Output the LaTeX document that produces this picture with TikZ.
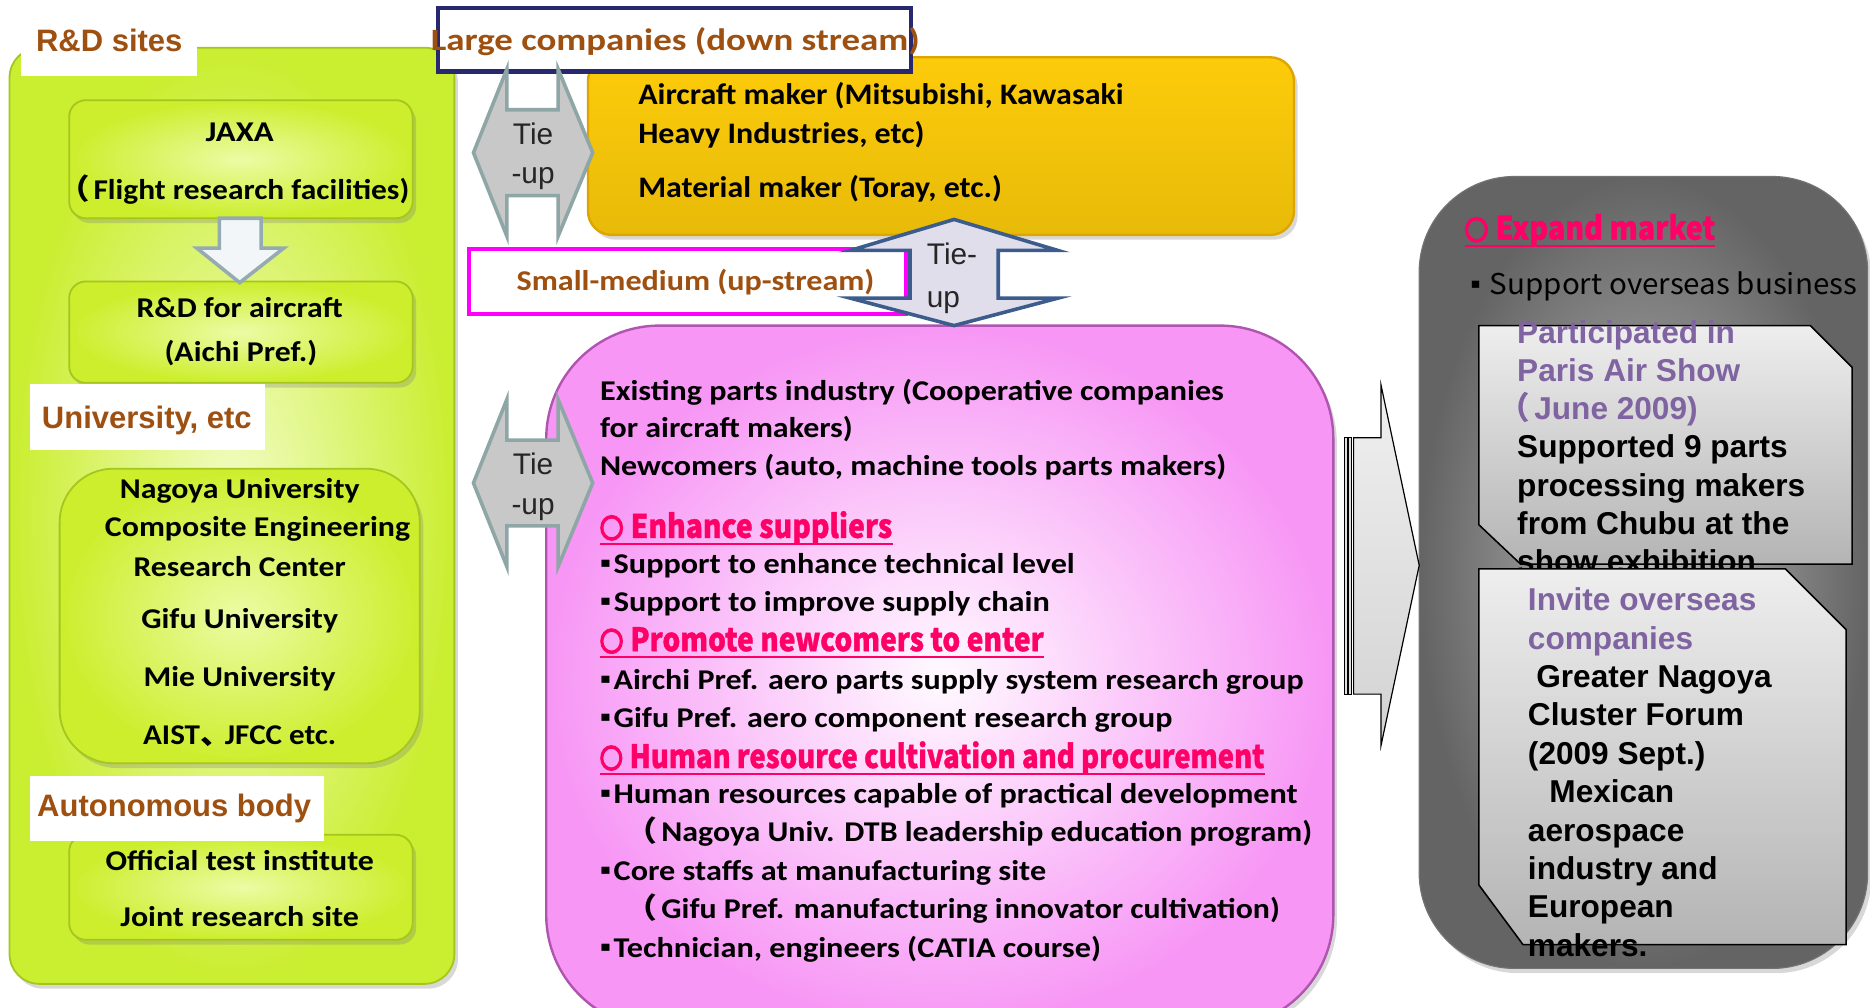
\documentclass[tikz,border=0pt]{standalone}
\usepackage{fontspec}
\usepackage{graphicx}
\setmainfont{Carlito}
\newfontfamily\arialf{Liberation Sans}
\newfontfamily\jpf{Noto Sans CJK JP}
\newfontfamily\jphd{Noto Sans CJK JP}[FakeBold=1.2]
\newfontfamily\circf{Noto Sans CJK JP}[FakeBold=9]
\newfontfamily\djf{DejaVu Sans}
\usetikzlibrary{shadows}
\definecolor{brownt}{RGB}{158,80,16}
\definecolor{pinkh}{RGB}{255,0,102}
\definecolor{purp}{RGB}{128,100,162}
\definecolor{navyb}{RGB}{40,40,110}
\definecolor{magb}{RGB}{255,0,255}
\definecolor{limeo}{RGB}{202,238,48}
\definecolor{limei}{RGB}{242,253,200}
\definecolor{limeb}{RGB}{165,198,30}
\definecolor{btno}{RGB}{204,238,44}
\definecolor{btni}{RGB}{236,251,165}
\definecolor{orangef}{RGB}{252,203,10}
\definecolor{orangeb}{RGB}{222,165,0}
\definecolor{pinko}{RGB}{247,150,245}
\definecolor{pinki}{RGB}{255,250,255}
\definecolor{pinkb}{RGB}{175,85,175}
\definecolor{grayo}{RGB}{100,100,100}
\definecolor{grayi}{RGB}{188,188,188}
\definecolor{tieg}{RGB}{200,200,200}
\definecolor{tieb}{RGB}{143,166,166}
\definecolor{udf}{RGB}{225,222,236}
\definecolor{udb}{RGB}{60,92,140}
\definecolor{dnf}{RGB}{243,246,248}
\definecolor{dnb}{RGB}{150,170,178}
\definecolor{notet}{RGB}{238,238,238}
\definecolor{noteb}{RGB}{180,180,180}
\newcommand\fitto[2]{\sbox0{#2}\pgfmathsetmacro\fitsc{#1/\the\wd0}\scalebox{\fitsc}[1]{\usebox0}}
\newcommand\txL[5][]{\node[txt,anchor=base west,#1] (#2) at (#3) {\fitto{#4}{#5}};}
\newcommand\txC[5][]{\node[txt,anchor=base,#1] (#2) at (#3) {\fitto{#4}{#5}};}
\newcommand\bul{\raisebox{5pt}{\djf\fontsize{12}{12}\selectfont ▪}\hspace{2pt}}
\newcommand\fwp{\hspace{-0.58em}{\jpf （}\hspace{0.12em}}
\newcommand\ringmk{{\circf\fontsize{22}{22}\selectfont ○}\hspace{7pt}}
\begin{document}
\begin{tikzpicture}[x=1pt,y=-1pt,
  txt/.style={inner sep=0pt, font=\fontsize{24}{28}\selectfont\bfseries, text=black},
  orng/.style={font=\fontsize{25}{28}\selectfont\bfseries},
  brn/.style={text=brownt, font=\fontsize{26}{30}\selectfont\bfseries},
  hd/.style={inner sep=0pt, anchor=base west, text=brownt, font=\arialf\fontsize{26}{30}\selectfont\bfseries},
  pk/.style={text=pinkh, font=\jphd\fontsize{27}{30}\selectfont\bfseries},
  ul/.style={draw=pinkh, line width=1.8pt},
  tie/.style={inner sep=0pt, text=black!85, font=\arialf\fontsize{25}{28}\selectfont},
  note/.style={inner sep=0pt, anchor=base west, font=\arialf\fontsize{26.5}{32}\selectfont\bfseries},
  shad/.style={drop shadow={shadow xshift=3pt, shadow yshift=-4pt, opacity=0.3}},
  btn/.style={rounded corners=14, draw=limeb, line width=1.5pt, inner color=btni, outer color=btno, shad},
  tiearrow/.style={fill=tieg, draw=tieb, line width=3pt, line join=miter},
  notebox/.style={top color=notet, bottom color=noteb, draw=black, line width=1.3pt}
]
\useasboundingbox (0,0) rectangle (1568,845);
\fill[white] (0,0) rectangle (1568,845);

% ---------------- left green panel
\path[rounded corners=25, inner color=limei, outer color=limeo, draw=limeb, line width=1.5pt, shad] (8,40) rectangle (381,825);
\path[btn] (58,84) rectangle (346,183);
\path[btn] (58,236) rectangle (346,321);
\path[btn, rounded corners=45] (50,393) rectangle (352,640);
\path[btn] (58,700) rectangle (346,788);
\filldraw[fill=dnf, draw=dnb, line width=3pt, line join=miter]
  (184,183) -- (219,183) -- (219,208) -- (238,208) -- (201,237) -- (165,208) -- (184,208) -- cycle;
\fill[white] (18,14) rectangle (165,64);
\fill[white] (25,322) rectangle (222,377);
\fill[white] (25,651) rectangle (272,705);
\node[hd] (rdsites) at (30,43) {R\&D sites};
\node[hd] (univ) at (35,359) {University, etc};
\node[hd] (auton) at (31,685) {Autonomous body};
\txC{jaxa}{201,119}{57}{JAXA}
\txL{flight}{64,167}{279}{\fwp Flight research facilities)}
\txC{rdair}{201,266}{173}{R\&D for aircraft}
\txC{aichi}{202,303}{128}{(Aichi Pref.)}
\txC{nagoya}{201,418}{201}{Nagoya University}
\txC{comp}{216,450}{256}{Composite Engineering}
\txC{resc}{201,483}{178}{Research Center}
\txC{gifu}{201,527}{165}{Gifu University}
\txC{mie}{201,576}{161}{Mie University}
\txC{aist}{201,624}{162}{AIST{\jpf 、}\hspace{-0.2em}JFCC etc.}
\txC{offi}{201,730}{225}{Official test institute}
\txC{joint}{201,777}{200}{Joint research site}

% ---------------- large companies
\path[rounded corners=20, top color=orangef, bottom color=orangef!92!black, draw=orangeb, line width=2pt, shad] (493,48) rectangle (1085,197);
\txL[orng]{air1}{535,88}{407}{Aircraft maker (Mitsubishi, Kawasaki}
\txL[orng]{air2}{535,120}{240}{Heavy Industries, etc)}
\txL[orng]{mat}{535,166}{305}{Material maker (Toray, etc.)}
\filldraw[fill=white, draw=navyb, line width=3.5pt] (367,7) rectangle (764,60);
\txL[brn]{large}{361,42}{410}{Large companies (down stream)}
\filldraw[tiearrow] (397,128) -- (425,58) -- (425,92) -- (468,92) -- (468,58) -- (497,128)
  -- (468,198) -- (468,164) -- (425,164) -- (425,198) -- cycle;
\node[tie, anchor=base] (tie1a) at (447,121) {Tie};
\node[tie, anchor=base] (tie1b) at (447,154) {-up};

% ---------------- small-medium
\filldraw[fill=white, draw=magb, line width=3.5pt] (393,209) rectangle (760,263);
\txL[brn, font=\fontsize{24}{28}\selectfont\bfseries]{small}{433,244}{300}{Small-medium (up-stream)}

% ---------------- pink panel
\path[rounded corners=95, inner color=pinki, outer color=pinko, draw=pinkb, line width=2pt, shad] (458,273) rectangle (1118,862);
\filldraw[fill=udf, draw=udb, line width=3pt, line join=miter]
  (800,184) -- (887,210) -- (837,210) -- (837,250) -- (887,250) -- (800,273)
  -- (713,250) -- (763,250) -- (763,210) -- (713,210) -- cycle;
\node[tie, anchor=base west] (tie3a) at (777,222) {Tie-};
\node[tie, anchor=base west] (tie3b) at (777,258) {up};
\filldraw[tiearrow] (397,405) -- (425,335) -- (425,369) -- (468,369) -- (468,335) -- (497,405)
  -- (468,475) -- (468,441) -- (425,441) -- (425,475) -- cycle;
\node[tie, anchor=base] (tie2a) at (447,398) {Tie};
\node[tie, anchor=base] (tie2b) at (447,431) {-up};

\txL{ex1}{503,336}{523}{Existing parts industry (Cooperative companies}
\txL{ex2}{503,367}{212}{for aircraft makers)}
\txL{ex3}{503,399}{525}{Newcomers (auto, machine tools parts makers)}
\txL[pk]{h1}{503,451}{245}{\ringmk Enhance suppliers}
\draw[ul] ([yshift=-5pt]h1.base west) -- ([yshift=-5pt]h1.base east);
\txL{b1}{503,481}{398}{\bul Support to enhance technical level}
\txL{b2}{503,513}{377}{\bul Support to improve supply chain}
\txL[pk]{h2}{503,546}{372}{\ringmk Promote newcomers to enter}
\draw[ul] ([yshift=-5pt]h2.base west) -- ([yshift=-5pt]h2.base east);
\txL{b3}{503,578}{590}{\bul Airchi Pref. aero parts supply system research group}
\txL{b4}{503,610}{480}{\bul Gifu Pref. aero component research group}
\txL[pk]{h3}{503,644}{557}{\ringmk Human resource cultivation and procurement}
\draw[ul] ([yshift=-5pt]h3.base west) -- ([yshift=-5pt]h3.base east);
\txL{b5}{503,674}{585}{\bul Human resources capable of practical development}
\txL{b6}{540,706}{560}{\fwp Nagoya Univ. DTB leadership education program)}
\txL{b7}{503,738}{374}{\bul Core staffs at manufacturing site}
\txL{b8}{540,770}{533}{\fwp Gifu Pref. manufacturing innovator cultivation)}
\txL{b9}{503,803}{420}{\bul Technician, engineers (CATIA course)}

% ---------------- right gray panel
\path[rounded corners=80, inner color=grayi, outer color=grayo, draw=black!55, line width=1pt, shad] (1190,148) rectangle (1566,812);
\txL[pk]{h4}{1228,201}{210}{\ringmk Expand market}
\draw[ul] ([yshift=-5pt]h4.base west) -- ([yshift=-5pt]h4.base east);
\txL[font=\jpf\fontsize{24}{28}\selectfont]{sob}{1233,247}{324}{\bul\ Support overseas business}

% striped arrow
\filldraw[top color=gray!12, bottom color=gray!35, draw=black, line width=1pt, line join=miter]
  (1135,367) -- (1158,367) -- (1158,323) -- (1190,474) -- (1158,625) -- (1158,582) -- (1135,582) -- cycle;
\filldraw[fill=gray!25, draw=black, line width=0.7pt] (1127,367) rectangle (1129.5,582);
\filldraw[fill=gray!25, draw=black, line width=0.7pt] (1131,367) rectangle (1133.5,582);

% notes
\filldraw[notebox] (1240,273) -- (1518,273) -- (1553,308) -- (1553,473) -- (1275,473) -- (1240,440) -- cycle;
\node[note] (note1) at (1272,288) {\vtop{\baselineskip=32pt\lineskiplimit=-100pt
  \hbox{\color{purp}Participated in}\hbox{\color{purp}Paris Air Show}\hbox{\color{purp}\fwp June 2009)}
  \hbox{Supported 9 parts}\hbox{processing makers}\hbox{from Chubu at the}\hbox{show exhibition}}};
\filldraw[notebox] (1240,477) -- (1497,477) -- (1548,528) -- (1548,792) -- (1277,792) -- (1240,742) -- cycle;
\node[note] (note2) at (1281,512) {\vtop{\baselineskip=32.2pt\lineskiplimit=-100pt
  \hbox{\color{purp}Invite overseas}\hbox{\color{purp}companies}
  \hbox{\hspace{7pt}Greater Nagoya}\hbox{Cluster Forum}\hbox{(2009 Sept.)}\hbox{\hspace{18pt}Mexican}
  \hbox{aerospace}\hbox{industry and}\hbox{European}\hbox{makers.}}};
\end{tikzpicture}
\end{document}
